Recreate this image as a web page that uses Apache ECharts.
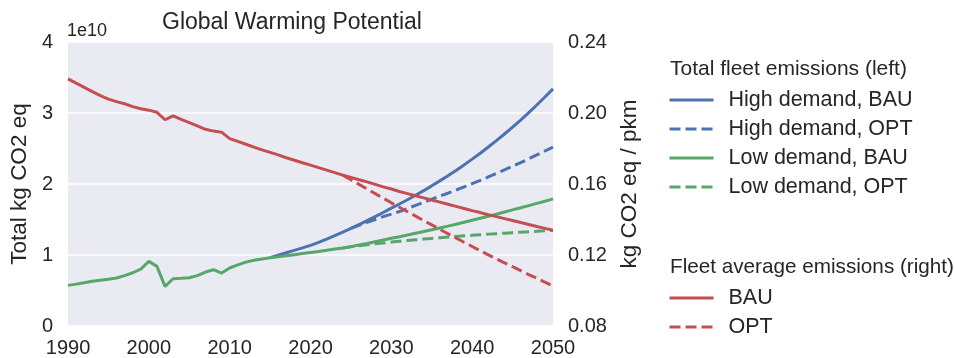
<!DOCTYPE html>
<html>
<head>
<meta charset="utf-8">
<script src="https://cdn.jsdelivr.net/npm/echarts@6/dist/echarts.min.js"></script>
<style>
  html, body { margin: 0; padding: 0; background: #ffffff; }
  #chart { width: 954px; height: 358px; }
</style>
</head>
<body>
<div id="chart"></div>
<script>
// Total fleet emissions, in units of 1e10 kg CO2 eq (left axis)
const lowBauStart = 1990;
const lowDemandBAU = [
  0.572, 0.590, 0.610, 0.630, 0.645, 0.660, 0.676, 0.710, 0.750, 0.800,
  0.910, 0.840, 0.558, 0.666, 0.672, 0.680, 0.710, 0.760, 0.793, 0.746,
  0.817, 0.860, 0.900, 0.925, 0.945, 0.962, 0.975, 0.990, 1.005, 1.020,
  1.035, 1.050, 1.066, 1.083, 1.100, 1.118, 1.140, 1.162, 1.186, 1.210,
  1.235, 1.258, 1.282, 1.306, 1.330, 1.355, 1.381, 1.407, 1.434, 1.462,
  1.490, 1.518, 1.546, 1.575, 1.605, 1.635, 1.665, 1.696, 1.727, 1.758,
  1.790
];
const highBauStart = 2015;
const highDemandBAU = [
  0.962, 0.996, 1.031, 1.066, 1.100,
  1.135, 1.179, 1.225, 1.273, 1.323, 1.375, 1.428, 1.483, 1.540, 1.599,
  1.660, 1.718, 1.778, 1.841, 1.906, 1.974, 2.044, 2.116, 2.191, 2.269,
  2.350, 2.434, 2.521, 2.611, 2.704, 2.801, 2.901, 3.005, 3.113, 3.225,
  3.340
];
const highOptStart = 2025;
const highDemandOPT = [
  1.375, 1.418, 1.460, 1.500, 1.540,
  1.575, 1.612, 1.655, 1.700, 1.740, 1.785, 1.830, 1.870, 1.915, 1.960,
  2.005, 2.050, 2.100, 2.150, 2.200, 2.250, 2.300, 2.355, 2.410, 2.465,
  2.520
];
const lowOptStart = 2024;
const lowDemandOPT = [
  1.100, 1.115, 1.130, 1.145, 1.158, 1.170,
  1.182, 1.193, 1.204, 1.214, 1.224, 1.234, 1.243, 1.252, 1.261, 1.270,
  1.278, 1.286, 1.294, 1.301, 1.308, 1.315, 1.322, 1.328, 1.334, 1.340,
  1.346
];

// Fleet average emissions, kg CO2 eq / pkm (right axis)
const fleetBauStart = 1990;
const fleetBAU = [
  0.2192, 0.2168, 0.2144, 0.2120, 0.2098, 0.2078, 0.2064, 0.2052, 0.2036, 0.2024,
  0.2016, 0.2004, 0.1962, 0.1984, 0.1964, 0.1946, 0.1928, 0.1908, 0.1898, 0.1892,
  0.1856, 0.1840, 0.1824, 0.1808, 0.1792, 0.1778, 0.1764, 0.1748, 0.1734, 0.1720,
  0.1706, 0.1692, 0.1678, 0.1664, 0.1650, 0.1637, 0.1624, 0.1612, 0.1598, 0.1584,
  0.1572, 0.1558, 0.1546, 0.1534, 0.1522, 0.1510, 0.1498, 0.1486, 0.1474, 0.1462,
  0.1450, 0.1439, 0.1427, 0.1416, 0.1405, 0.1394, 0.1383, 0.1372, 0.1361, 0.1350,
  0.1339
];
const fleetOptStart = 2024;
const fleetOPT = [
  0.1650, 0.1624, 0.1598, 0.1572, 0.1546, 0.1520,
  0.1494, 0.1469, 0.1444, 0.1419, 0.1394, 0.1370, 0.1345, 0.1320, 0.1296, 0.1272,
  0.1248, 0.1224, 0.1201, 0.1178, 0.1156, 0.1134, 0.1112, 0.1090, 0.1069, 0.1047,
  0.1026
];

const leftTicks = [0, 1, 2, 3, 4];
const rightTicks = [0.08, 0.12, 0.16, 0.20, 0.24];

const BLUE = '#4C72B0', GREEN = '#55A868', RED = '#C44E52';
const INK = '#262626';
const FONT = 'Liberation Sans, Arial, sans-serif';
const DASH = [11, 5];
const LINE_W = 3;

function toPairs(start, values) {
  return values.map((v, i) => [start + i, v]);
}

function lineSeries(name, color, dashed, yAxisIndex, start, values) {
  return {
    name: name,
    type: 'line',
    yAxisIndex: yAxisIndex,
    data: toPairs(start, values),
    symbol: 'none',
    showSymbol: false,
    smooth: false,
    color: color,
    lineStyle: { color: color, width: LINE_W, type: dashed ? DASH : 'solid' },
    emphasis: { disabled: true }
  };
}

function legendBlock(names, top) {
  return {
    orient: 'vertical', left: 668, top: top, padding: 0,
    itemWidth: 44, itemHeight: 14, itemGap: 7,
    data: names,
    itemStyle: { opacity: 0 },
    lineStyle: { width: LINE_W },
    textStyle: { fontFamily: FONT, fontSize: 21.5, color: INK, lineHeight: 22, padding: [0, 0, 0, 10] },
    selectedMode: false
  };
}

const chart = echarts.init(document.getElementById('chart'), null, { renderer: 'canvas' });

const option = {
  animation: false,
  backgroundColor: '#ffffff',
  textStyle: { fontFamily: FONT, color: INK },
  title: [
    { text: 'Global Warming Potential', left: 162, top: 11, padding: 0,
      textStyle: { fontFamily: FONT, fontSize: 23, fontWeight: 'normal', color: INK } },
    { text: 'Total fleet emissions (left)', left: 670, top: 59, padding: 0,
      textStyle: { fontFamily: FONT, fontSize: 21, fontWeight: 'normal', color: INK } },
    { text: 'Fleet average emissions (right)', left: 670, top: 257, padding: 0,
      textStyle: { fontFamily: FONT, fontSize: 20.7, fontWeight: 'normal', color: INK } }
  ],
  graphic: [
    { type: 'text', left: 67, top: 22,
      style: { text: '1e10', font: '18px ' + FONT, fill: INK } }
  ],
  legend: [
    legendBlock(['High demand, BAU', 'High demand, OPT', 'Low demand, BAU', 'Low demand, OPT'], 89),
    legendBlock(['BAU', 'OPT'], 287)
  ],
  grid: {
    left: 68, right: 401, top: 42, bottom: 32,
    show: true, backgroundColor: '#EAEAF2', borderWidth: 0
  },
  xAxis: {
    type: 'value', min: 1990, max: 2050, interval: 10,
    axisLine: { show: false }, axisTick: { show: false },
    splitLine: { show: false },
    axisLabel: { fontFamily: FONT, fontSize: 20, color: INK, margin: 12,
      formatter: v => String(v) }
  },
  yAxis: [
    {
      type: 'value', min: leftTicks[0], max: leftTicks[leftTicks.length - 1], interval: 1,
      position: 'left',
      name: 'Total kg CO2 eq', nameLocation: 'middle', nameGap: 35,
      nameTextStyle: { fontFamily: FONT, fontSize: 22.5, color: INK },
      axisLine: { show: false }, axisTick: { show: false },
      splitLine: { show: true, lineStyle: { color: '#ffffff', width: 1.6 } },
      axisLabel: { fontFamily: FONT, fontSize: 20, color: INK, margin: 15 }
    },
    {
      type: 'value', min: rightTicks[0], max: rightTicks[rightTicks.length - 1], interval: 0.04,
      position: 'right',
      name: 'kg CO2 eq / pkm', nameLocation: 'middle', nameGap: 54,
      nameTextStyle: { fontFamily: FONT, fontSize: 22.5, color: INK },
      axisLine: { show: false }, axisTick: { show: false },
      splitLine: { show: false },
      axisLabel: { fontFamily: FONT, fontSize: 20, color: INK, margin: 15,
        formatter: v => v.toFixed(2) }
    }
  ],
  series: [
    lineSeries('High demand, BAU', BLUE, false, 0, highBauStart, highDemandBAU),
    lineSeries('High demand, OPT', BLUE, true, 0, highOptStart, highDemandOPT),
    lineSeries('Low demand, BAU', GREEN, false, 0, lowBauStart, lowDemandBAU),
    lineSeries('Low demand, OPT', GREEN, true, 0, lowOptStart, lowDemandOPT),
    lineSeries('BAU', RED, false, 1, fleetBauStart, fleetBAU),
    lineSeries('OPT', RED, true, 1, fleetOptStart, fleetOPT)
  ]
};

chart.setOption(option);
</script>
</body>
</html>
